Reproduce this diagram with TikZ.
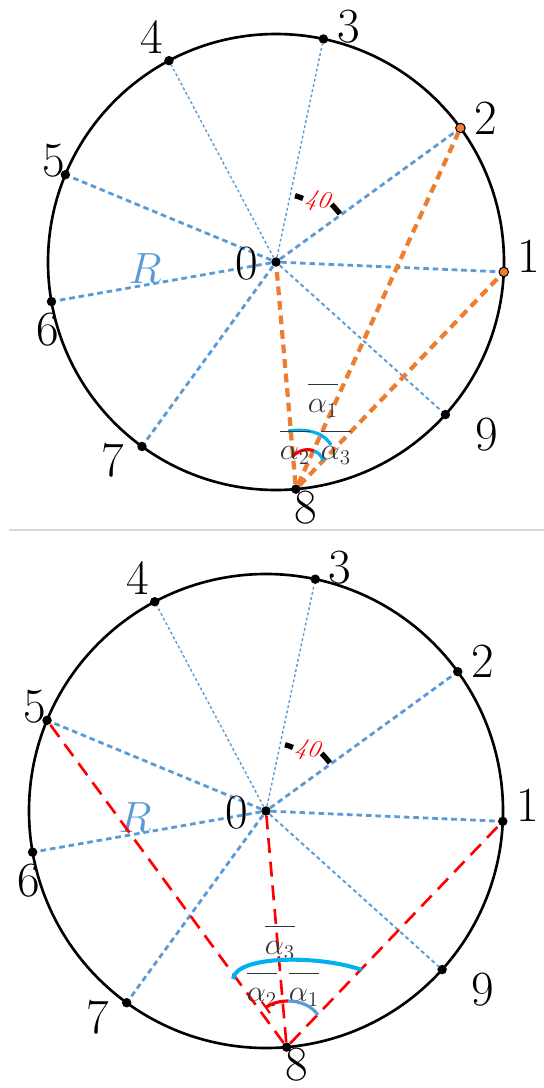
\documentclass[tikz,border=0pt]{standalone}
\usepackage{amsmath}
\usetikzlibrary{arrows.meta}

\definecolor{rayblue}{HTML}{5B9BD5}
\definecolor{chordorange}{HTML}{ED7D31}
\definecolor{arccyan}{HTML}{00B0F0}
\definecolor{sepgray}{HTML}{D9D9D9}

\tikzset{
  rim/.style={line width=1.5pt},
  dot/.style={circle, fill=black, inner sep=0pt, minimum size=5.4pt},
  ray/.style={rayblue, line width=1.6pt, dash pattern=on 3.2pt off 2.2pt},
  raymid/.style={rayblue, line width=1.1pt, dash pattern=on 2.2pt off 1.8pt},
  rayfine/.style={rayblue, line width=0.8pt, dash pattern=on 1.6pt off 1.4pt},
  num/.style={font=\fontsize{28}{32}\selectfont, inner sep=0pt},
  rlbl/.style={rayblue, font=\fontsize{30}{34}\selectfont, inner sep=0pt},
  deglbl/.style={red, font=\fontsize{14}{16}\selectfont, inner sep=0pt, rotate=-12},
  tickmark/.style={line width=3pt},
  chord/.style={chordorange, line width=2.4pt, dash pattern=on 5pt off 3.3pt},
  redchord/.style={red, line width=1.5pt, dash pattern=on 8.5pt off 5pt},
  albl/.style={font=\fontsize{18}{20}\selectfont, inner sep=0pt, anchor=base, text=black!80},
  anglearc/.style={line width=1.8pt},
  sepline/.style={sepgray, line width=0.8pt},
  topdot1/.style={fill=chordorange, draw=black, line width=0.6pt},
  topdot2/.style={fill=chordorange, draw=black, line width=0.6pt},
}

% #1 prefix, #2 #3 centre (px), #4 radius (px)
\newcommand{\dial}[4]{%
  \begin{scope}[shift={(#2,#3)}]
    \draw[rim] (0,0) circle[radius=#4];
    \node[dot] (#1-0) at (0,0) {};
    \foreach \k/\a in {1/-2.5,2/36,3/78,4/118,5/157.5,6/190,7/234,8/275,9/318}
      \node[dot, #1dot\k/.try] (#1-\k) at (-\a:#4) {};
    %rays
    \foreach \k in {1,2,5,6,7}
      \draw[ray] (#1-0) -- (#1-\k);
    \draw[raymid] (#1-0) -- (#1-9);
    \draw[rayfine] (#1-0) -- (#1-3);
    \draw[rayfine] (#1-0) -- (#1-4);
    %labels
    \foreach \k/\dx/\dy in {0/-29/2,1/25/-16,2/25/-10,3/25/-12,4/-17/-24,5/-12/-14,6/-4/28,7/-29/14,8/10/18,9/41/20}
      \node[num] (#1-n\k) at ([shift={(\dx,\dy)}]#1-\k) {\k};
    \node[rlbl] (#1-r) at (-131,7) {$R$};
    \node[deglbl] (#1-deg) at (42,-61) {\textit{40}};
    \draw[tickmark] (-74:69) arc[start angle=-74, end angle=-67, radius=69];
    \draw[tickmark] (-46:80) arc[start angle=-46, end angle=-37, radius=80];
  \end{scope}}

\begin{document}
\begin{tikzpicture}[x=0.02cm, y=-0.02cm]
    \useasboundingbox (0,0) rectangle (544,1088);

    %upper picture
    \dial{top}{276}{262}{228}
    \draw[chord] (top-8) -- (top-0);
    \draw[chord] (top-8) -- (top-2);
    \draw[chord] (top-8) -- (top-1);
    \draw[anglearc, arccyan] (288,431) .. controls (310,428) and (325,434) .. (331,445);
    \draw[anglearc, red] (292,457) .. controls (298,450) and (308,448) .. (314,451);
    \draw[anglearc, arccyan] (314,451) .. controls (318,452) and (322,456) .. (323,461);
    \node[albl] (top-a1) at (323,392) {$\dfrac{}{\alpha_1}$};
    \node[albl] (top-a2) at (295,439) {$\dfrac{}{\alpha_2}$};
    \node[albl] (top-a3) at (336,439) {$\dfrac{}{\alpha_3}$};

    %separator
    \draw[sepline] (9,530) -- (544,530);

    %lower picture
    \dial{bot}{266}{811}{237}
    \draw[redchord] (bot-8) -- (bot-5);
    \draw[redchord] (bot-8) -- (bot-0);
    \draw[redchord] (bot-8) -- (bot-1);
    \node[albl] (bot-a3) at (280,934) {$\dfrac{}{\alpha_3}$};
    \node[albl] (bot-a2) at (262,981) {$\dfrac{}{\alpha_2}$};
    \node[albl] (bot-a1) at (304,981) {$\dfrac{}{\alpha_1}$};
    \draw[anglearc, arccyan, line width=2.3pt] (233,979) .. controls (236,955) and (320,955) .. (362,970);
    \draw[anglearc, red, {Bar[width=8pt, line width=1.2pt]}-] (265,1008) .. controls (272,1003) and (280,1001) .. (288,1001);
    \draw[anglearc, rayblue] (288,1001) .. controls (300,1001) and (312,1006) .. (318,1015);
\end{tikzpicture}
\end{document}
